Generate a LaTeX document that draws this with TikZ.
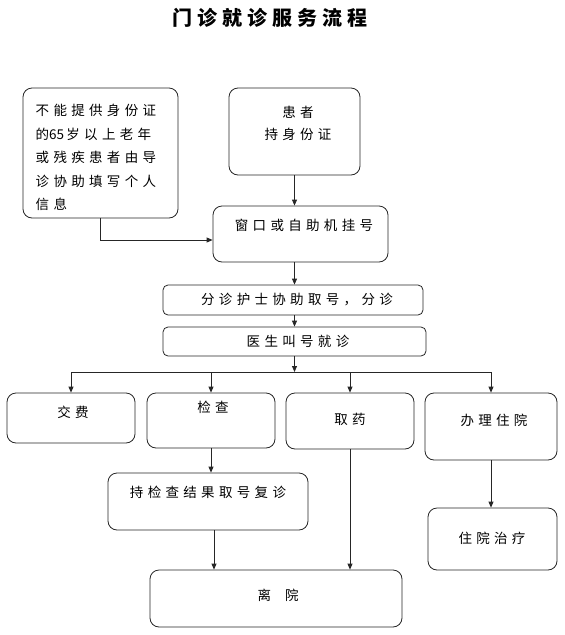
\documentclass[tikz,border=0pt]{standalone}
\usepackage{fontspec}
\setmainfont{Noto Sans CJK SC}
\newfontfamily\zh[LetterSpace=32]{Noto Sans CJK SC}
\newfontfamily\zhnum{Noto Sans CJK SC}
\newfontfamily\zhtitle[LetterSpace=25]{Noto Sans CJK SC}
\usetikzlibrary{arrows.meta}

\begin{document}
\begin{tikzpicture}[x=1pt, y=-1pt,
  box/.style={rectangle, draw=black!85, line width=0.8pt, rounded corners=9pt, inner sep=0pt},
  bar/.style={box, rounded corners=5pt},
  txt/.style={inner sep=0pt, font=\zh\fontsize{13.5}{22}\selectfont},
  >={Triangle[width=5pt,length=6pt]}
]
\useasboundingbox (0,0) rectangle (565,635);
\node[inner sep=0pt, font=\zhtitle\bfseries\fontsize{20}{24}\selectfont] (title) at (270,18) {门诊就诊服务流程};

\node[box, minimum width=155pt, minimum height=130pt] (guide) at (100.5,153) {};
\node[box, minimum width=131pt, minimum height=87pt]  (pat)   at (294.5,131.5) {};
\node[box, minimum width=175pt, minimum height=56pt]  (win)   at (300.5,234) {};
\node[bar, minimum width=260pt, minimum height=30pt]  (tri)   at (293,300) {};
\node[bar, minimum width=263pt, minimum height=29pt]  (doc)   at (294.5,341.5) {};
\node[box, minimum width=128pt, minimum height=50pt]  (jf)    at (71,418) {};
\node[box, minimum width=128pt, minimum height=55pt]  (jc)    at (211,420.5) {};
\node[box, minimum width=128pt, minimum height=56pt]  (qy)    at (350,421) {};
\node[box, minimum width=132pt, minimum height=67pt]  (zy)    at (491,426.5) {};
\node[box, minimum width=200pt, minimum height=57pt]  (fz)    at (208,501.5) {};
\node[box, minimum width=129pt, minimum height=62pt]  (zl)    at (492.5,539) {};
\node[box, minimum width=252pt, minimum height=57pt]  (ly)    at (276,598.5) {};

\node[txt, align=left, anchor=north west, font=\zh\fontsize{13.5}{23.5}\selectfont] (t-guide) at (35.5,104) {不能提供身份证\\的{\zhnum 65}\,岁以上老年\\或残疾患者由导\\诊协助填写个人\\信息};
\node[txt, align=center] (t-pat) at (298,123) {患者\\持身份证};
\node[txt] (t-win) at (304,225) {窗口或自助机挂号};
\node[txt] (t-tri) at (297,300) {分诊护士协助取号，分诊};
\node[txt] (t-doc) at (298,341.5) {医生叫号就诊};
\node[txt] (t-jf) at (73,412) {交费};
\node[txt] (t-jc) at (213,407) {检查};
\node[txt] (t-qy) at (350,419) {取药};
\node[txt] (t-zy) at (494,420) {办理住院};
\node[txt] (t-fz) at (208,492) {持检查结果取号复诊};
\node[txt] (t-zl) at (492,538) {住院治疗};
\node[txt] (t-ly) at (278,595) {离\hspace{14pt}院};

\begin{scope}[draw=black!85, line width=0.8pt]
\draw[->] (pat.south) -- (pat.south |- win.north);
\draw[->] (guide.south) |- ([yshift=-6pt]win.west);
\draw[->] (win.south -| pat.south) -- (tri.north -| pat.south);
\draw[->] (tri.south -| pat.south) -- (doc.north -| pat.south);
\coordinate (bus) at (294.5,372);
\draw[->] (doc.south -| bus) -- (bus);
\draw (bus -| jf.north) -- (bus -| zy.north);
\foreach \b in {jf,jc,qy,zy} { \draw[->] (bus -| \b.north) -- (\b.north); }
\draw[->] (jc.south) -- (jc.south |- fz.north);
\draw[->] ([xshift=6pt]fz.south) -- ([xshift=6pt]fz.south |- ly.north);
\draw[->] (qy.south) -- (qy.south |- ly.north);
\draw[->] (zy.south) -- (zy.south |- zl.north);
\end{scope}
\end{tikzpicture}
\end{document}
